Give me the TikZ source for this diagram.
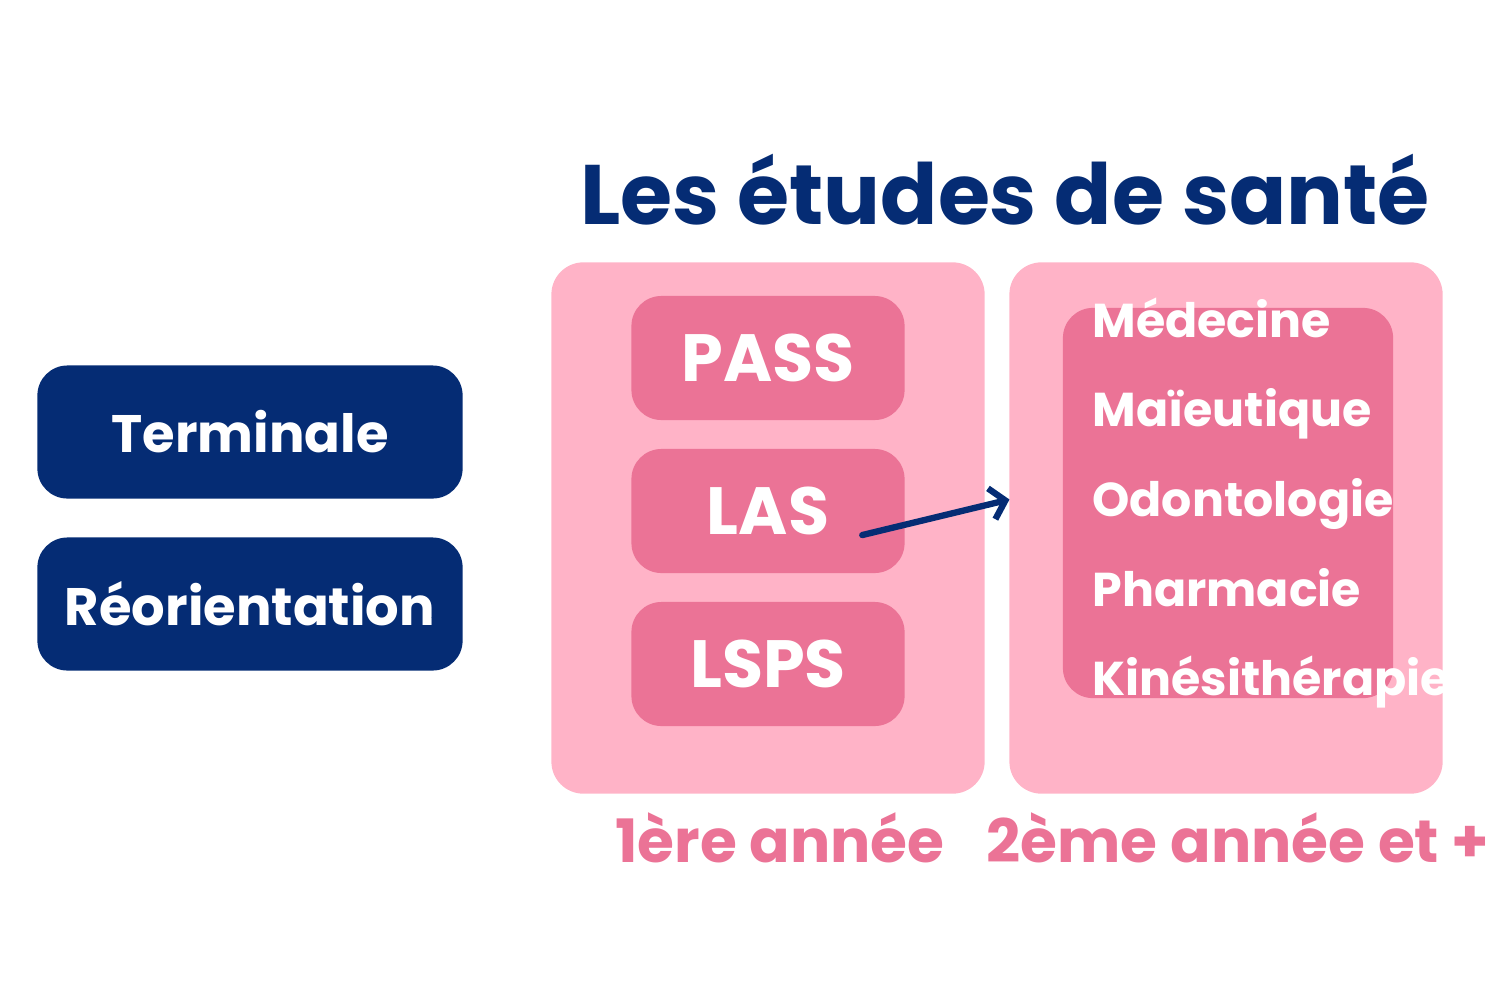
\documentclass[tikz,border=0pt]{standalone}
\usepackage{fontspec}
\setmainfont{Poppins}
\usetikzlibrary{arrows.meta}
\definecolor{navy}{HTML}{052C74}
\definecolor{lightpink}{HTML}{FFB3C7}
\definecolor{darkpink}{HTML}{EB7396}
\begin{document}
\begin{tikzpicture}[x=0.01cm,y=-0.01cm]
		\tikzstyle{entry}=[fill=navy,rounded corners=0.3cm,minimum width=4.25cm,minimum height=1.33cm,text=white,font=\bfseries\fontsize{15}{18}\selectfont]
		\tikzstyle{panel}=[fill=lightpink,rounded corners=0.32cm,minimum width=4.33cm,minimum height=5.31cm]
		\tikzstyle{course}=[fill=darkpink,rounded corners=0.3cm,minimum width=2.73cm,minimum height=1.24cm,text=white,font=\bfseries\fontsize{19}{22}\selectfont]
		\tikzstyle{flow}=[draw=navy,line width=1.8pt,line cap=round,-{Straight Barb[length=4pt,width=9pt,line width=1.8pt]}]
		\tikzstyle{year}=[text=darkpink,font=\bfseries\fontsize{17}{20}\selectfont]

		\useasboundingbox (0,0) rectangle (1492,1000);

		\node[text=navy,font=\bfseries\fontsize{24}{28}\selectfont](title) at (1005,190){Les études de santé};

		\node[entry](term) at (250,432){Terminale};
		\node[entry](reo) at (250,604){Réorientation};

		\node[panel](first) at (768,528){};
		\node[panel](second) at (1226,528){};

		\node[course](pass) at (768,358){PASS};
		\node[course](las) at (768,511){LAS};
		\node[course](lsps) at (768,664){LSPS};

		\node[fill=darkpink,rounded corners=0.3cm,minimum width=3.3cm,minimum height=3.9cm](jobs) at (1228,503){};
		\node[text=white,align=left,anchor=west,font=\bfseries\fontsize{13.5}{25.5}\selectfont](list) at (1080,503){Médecine\\Maïeutique\\Odontologie\\Pharmacie\\Kinésithérapie};

		\node[year](y1) at (780,838){1ère année};
		\node[year](y2) at (1238,838){2ème année et +};

		\draw[flow,shorten <=3pt,shorten >=28pt] (term.east) -- (first.west |- term.east);
		\draw[flow,shorten <=3pt,shorten >=28pt] (reo.east) -- (first.west |- reo.east);
		\draw[flow] ([xshift=-35pt,yshift=-2pt]first.east) -- ([xshift=-15pt,yshift=1pt]jobs.west);
	\end{tikzpicture}
\end{document}
